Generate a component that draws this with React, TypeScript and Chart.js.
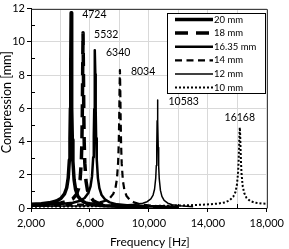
import React, { useEffect, useRef } from "react";
import { Chart, registerables } from "chart.js";

Chart.register(...registerables);

const seriesLabels = ["20 mm", "18 mm", "16.35 mm", "14 mm", "12 mm", "10 mm"];

const f20 = [2000, 2700, 3224, 3724, 4024, 4274, 4424, 4524, 4604, 4644, 4674, 4699, 4724, 4749, 4774, 4804, 4844, 4924, 5024, 5174, 5424, 5724, 6224, 7000, 8000, 10000];
const v20 = [0.22, 0.26, 0.31, 0.42, 0.57, 0.85, 1.22, 1.8, 2.9, 4.15, 6.0, 9.0, 11.75, 9.0, 6.0, 4.1, 2.8, 1.7, 1.12, 0.72, 0.45, 0.3, 0.2, 0.14, 0.1, 0.07];

const f18 = [2000, 3032, 4032, 4532, 4832, 5082, 5232, 5332, 5412, 5452, 5482, 5507, 5532, 5557, 5582, 5612, 5652, 5732, 5832, 5982, 6232, 6532, 7032, 8000, 9000, 11000];
const v18 = [0.18, 0.22, 0.3, 0.41, 0.55, 0.82, 1.18, 1.72, 2.75, 3.9, 5.7, 8.3, 10.55, 8.3, 5.7, 3.9, 2.7, 1.62, 1.07, 0.7, 0.44, 0.3, 0.2, 0.13, 0.1, 0.07];

const f16 = [2000, 3840, 4840, 5340, 5640, 5890, 6040, 6140, 6220, 6260, 6290, 6315, 6340, 6365, 6390, 6420, 6460, 6540, 6640, 6790, 7040, 7340, 7840, 8840, 10000, 12000];
const v16 = [0.17, 0.23, 0.32, 0.44, 0.6, 0.9, 1.3, 1.9, 3.05, 4.3, 5.95, 8.05, 9.5, 8.05, 5.9, 4.2, 2.95, 1.8, 1.2, 0.78, 0.5, 0.34, 0.22, 0.13, 0.09, 0.06];

const f14 = [2000, 4034, 5534, 6534, 7034, 7334, 7584, 7734, 7834, 7914, 7954, 7984, 8009, 8034, 8059, 8084, 8114, 8154, 8234, 8334, 8484, 8734, 9034, 9534, 10534, 12000];
const v14 = [0.12, 0.16, 0.22, 0.31, 0.43, 0.58, 0.85, 1.22, 1.77, 2.8, 3.9, 5.35, 7.15, 8.3, 7.1, 5.3, 3.8, 2.7, 1.65, 1.1, 0.72, 0.46, 0.32, 0.2, 0.12, 0.07];

const f12 = [2000, 5000, 8083, 9083, 9583, 9883, 10133, 10283, 10383, 10463, 10503, 10533, 10558, 10583, 10608, 10633, 10663, 10703, 10783, 10883, 11033, 11283, 11583, 12083, 13000];
const v12 = [0.1, 0.12, 0.16, 0.22, 0.29, 0.38, 0.55, 0.78, 1.13, 1.8, 2.56, 3.66, 5.25, 6.5, 5.23, 3.64, 2.52, 1.75, 1.06, 0.7, 0.46, 0.29, 0.2, 0.13, 0.08];

const f10 = [2000, 6000, 10000, 12168, 13668, 14668, 15168, 15468, 15718, 15868, 15968, 16048, 16088, 16118, 16143, 16168, 16193, 16218, 16248, 16288, 16368, 16468, 16618, 16868, 17168, 17668, 18000];
const v10 = [0.08, 0.1, 0.12, 0.15, 0.2, 0.26, 0.34, 0.46, 0.67, 0.95, 1.37, 2.08, 2.8, 3.63, 4.43, 4.85, 4.42, 3.6, 2.76, 2.02, 1.3, 0.9, 0.62, 0.42, 0.33, 0.27, 0.25];

const peakFreqs = [4724, 5532, 6340, 8034, 10583, 16168];
const peakValues = [11.75, 10.55, 9.5, 8.3, 6.5, 4.85];
const peakLabels = ["4724", "5532", "6340", "8034", "10583", "16168"];

const xTitle = "Frequency [Hz]";
const yTitle = "Compression [mm]";

const FONT = "Lato";

const seriesX = [f20, f18, f16, f14, f12, f10];
const seriesY = [v20, v18, v16, v14, v12, v10];
const widths = [3.5, 3.5, 2.5, 2.2, 1.5, 2];
const dashes: number[][] = [[], [13, 8], [], [7, 4.5], [], [2, 2]];

const peakPlugin = {
  id: "peakLabels",
  afterDatasetsDraw(chart: any) {
    const { ctx, scales } = chart;
    const x = scales.x, y = scales.y;
    ctx.save();
    ctx.font = `10.5px ${FONT}`;
    ctx.fillStyle = "#000";
    ctx.textBaseline = "middle";
    peakFreqs.forEach((f, i) => {
      const px = x.getPixelForValue(f);
      const py = y.getPixelForValue(peakValues[i]);
      if (i === peakFreqs.length - 1) {
        ctx.textAlign = "center";
        ctx.fillText(peakLabels[i], px, py - 10);
      } else {
        ctx.textAlign = "left";
        ctx.fillText(peakLabels[i], px + 11, py + 2);
      }
    });
    ctx.restore();
  },
};

const framePlugin = {
  id: "frameAndLegend",
  afterDraw(chart: any) {
    const { ctx, chartArea, scales } = chart;
    const { left, right, top, bottom } = chartArea;
    ctx.save();
    // top and right frame
    ctx.strokeStyle = "#404040";
    ctx.lineWidth = 1;
    ctx.beginPath();
    ctx.moveTo(Math.round(left) + 0.5, Math.round(top) + 0.5);
    ctx.lineTo(Math.round(right) + 0.5, Math.round(top) + 0.5);
    ctx.lineTo(Math.round(right) + 0.5, Math.round(bottom) + 0.5);
    ctx.stroke();
    // minor ticks inside
    ctx.strokeStyle = "#000";
    ctx.beginPath();
    for (let v = 1; v < 12; v += 2) {
      const py = Math.round(scales.y.getPixelForValue(v)) + 0.5;
      ctx.moveTo(left, py);
      ctx.lineTo(left + 4, py);
    }
    for (let v = 4000; v < 18000; v += 4000) {
      const px = Math.round(scales.x.getPixelForValue(v)) + 0.5;
      ctx.moveTo(px, bottom);
      ctx.lineTo(px, bottom - 4);
    }
    ctx.stroke();
    // legend
    const bw = 98, bh = 80;
    const bx = Math.round(right) - 2 - bw;
    const by = Math.round(top) + 4;
    ctx.fillStyle = "#fff";
    ctx.fillRect(bx, by, bw, bh);
    ctx.strokeStyle = "#000";
    ctx.lineWidth = 1;
    ctx.strokeRect(bx + 0.5, by + 0.5, bw, bh);
    ctx.font = `9.5px ${FONT}`;
    ctx.textBaseline = "middle";
    ctx.textAlign = "left";
    chart.data.datasets.forEach((ds: any, i: number) => {
      const cy = by + 6.5 + i * 13.6;
      ctx.save();
      ctx.strokeStyle = "#000";
      ctx.lineWidth = ds.borderWidth;
      ctx.setLineDash(ds.borderDash || []);
      ctx.beginPath();
      ctx.moveTo(bx + 8, cy);
      ctx.lineTo(bx + 46, cy);
      ctx.stroke();
      ctx.restore();
      ctx.fillStyle = "#000";
      ctx.fillText(ds.label, bx + 47, cy);
    });
    // axis titles
    ctx.font = `12px ${FONT}`;
    ctx.fillStyle = "#000";
    ctx.textAlign = "center";
    ctx.textBaseline = "middle";
    ctx.fillText(xTitle, (left + right) / 2 + 1, 242);
    ctx.save();
    ctx.translate(7, (top + bottom) / 2 - 6);
    ctx.rotate(-Math.PI / 2);
    ctx.font = `12.5px ${FONT}`;
    ctx.fillText(yTitle, 0, 0);
    ctx.restore();
    ctx.restore();
  },
};

export default function App() {
  const ref = useRef<HTMLCanvasElement | null>(null);
  useEffect(() => {
    if (!ref.current) return;
    const datasets = seriesLabels.map((label, i) => ({
      label,
      data: seriesX[i].map((f, j) => ({ x: f, y: seriesY[i][j] })),
      borderColor: "#000",
      backgroundColor: "#000",
      borderWidth: widths[i],
      borderDash: dashes[i],
      borderJoinStyle: "round" as const,
      borderCapStyle: "butt" as const,
      pointRadius: 0,
      tension: 0,
      fill: false,
    }));
    const chart = new Chart(ref.current, {
      type: "line",
      data: { datasets },
      options: {
        animation: false,
        responsive: false,
        maintainAspectRatio: false,
        layout: { padding: { top: 5, right: 17, left: 0, bottom: 0 } },
        plugins: { legend: { display: false }, tooltip: { enabled: false } },
        scales: {
          x: {
            type: "linear",
            min: 2000,
            max: 18000,
            afterFit: (s: any) => { s.height = 41; },
            ticks: {
              stepSize: 2000,
              autoSkip: false,
              maxRotation: 0,
              padding: 5,
              color: "#000",
              font: { family: FONT, size: 11 },
              callback: (v: any) => ((Number(v) - 2000) % 4000 === 0 ? Number(v).toLocaleString("en-US") : ""),
            },
            grid: {
              color: "#d9d9d9",
              tickLength: 4,
              tickColor: (c: any) => (c.tick && (c.tick.value - 2000) % 4000 === 0 ? "#000" : "rgba(0,0,0,0)"),
            },
            border: { color: "#000", width: 1 },
          },
          y: {
            min: 0,
            max: 12,
            afterFit: (s: any) => { s.width = 31; },
            ticks: {
              stepSize: 2,
              padding: 2,
              color: "#000",
              font: { family: FONT, size: 11 },
            },
            grid: { color: "#d9d9d9", tickLength: 4, tickColor: "#000" },
            border: { color: "#000", width: 1 },
          },
        },
      },
      plugins: [peakPlugin, framePlugin],
    });
    return () => chart.destroy();
  }, []);
  return (
    <div style={{ position: "absolute", left: 0, top: 0, width: 289, height: 249 }}>
      <canvas ref={ref} width={289} height={249} />
    </div>
  );
}
